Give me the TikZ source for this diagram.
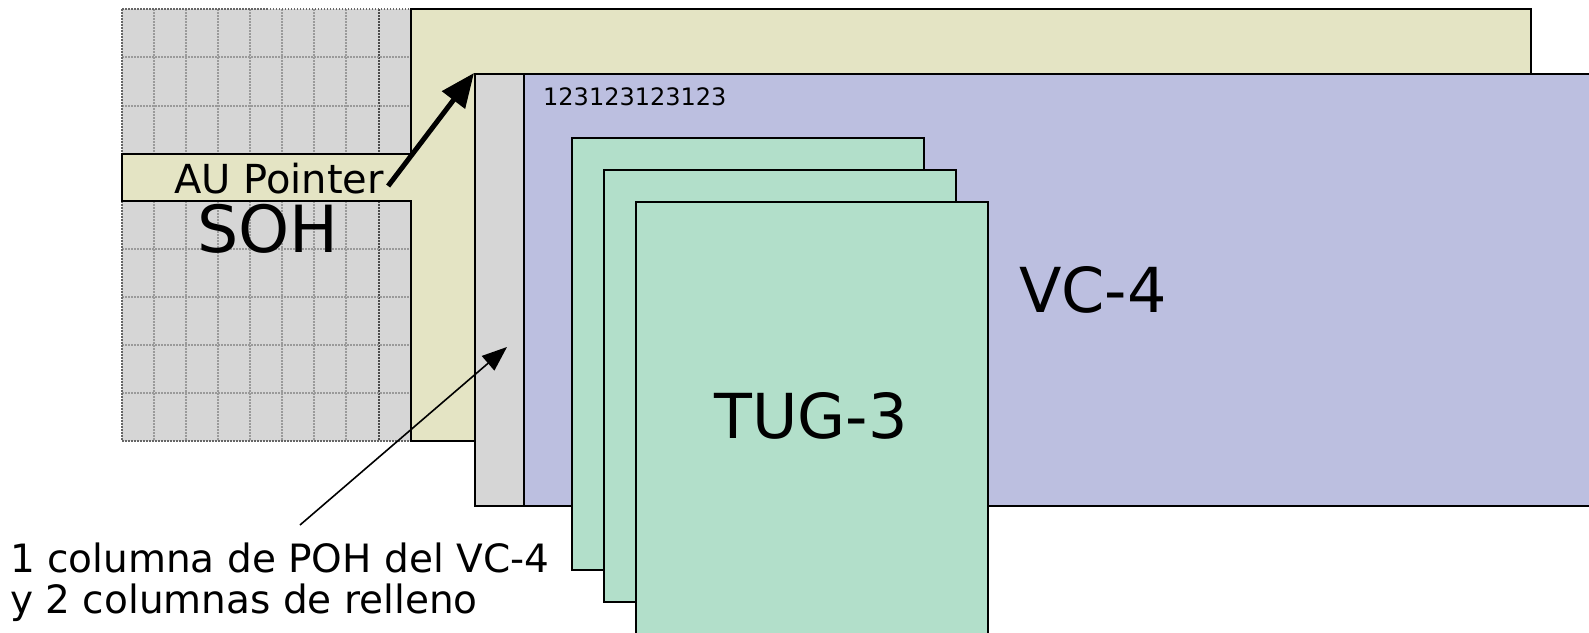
\documentclass[tikz,border=0pt]{standalone}
\usepackage{fontspec}
\setmainfont{DejaVu Sans}
\usetikzlibrary{arrows.meta}
\definecolor{sohgray}{HTML}{D6D6D6}
\definecolor{auyellow}{HTML}{E4E4C4}
\definecolor{vcblue}{HTML}{BCBFE0}
\definecolor{tuggreen}{HTML}{B2DFCA}
\definecolor{dotgray}{HTML}{9A9A9A}
\begin{document}
\begin{tikzpicture}[x=1pt,y=-1pt,
  frame/.style={draw=black, line width=2.4pt},
  boxnode/.style={frame, rectangle, inner sep=0pt, anchor=north west},
  gridline/.style={draw=dotgray, line width=1.2pt, dash pattern=on 1.5pt off 1.5pt},
  txt/.style={inner sep=0pt, text=black},
  pointerarrow/.style={line width=5pt, -{Triangle[length=34pt,width=28pt]}},
  notearrow/.style={line width=1.6pt, -{Triangle[length=25pt,width=19pt]}}]
\useasboundingbox (0,0) rectangle (1589,632);
\clip (0,0) rectangle (1589,632);

% section overhead: 9 x 9 byte grid
\fill[sohgray] (122,9) rectangle (411,441);
\foreach \x in {154,186,...,346} \draw[gridline] (\x,9) -- (\x,441);
\draw[gridline, draw=black!70] (379,9) -- (379,441);
\foreach \y in {57,106,249,297,345,393} \draw[gridline] (122,\y) -- (411,\y);
\draw[gridline, draw=black!60] (122,9) rectangle (411,441);

% AU-4 with its pointer row
\draw[frame, fill=auyellow] (411,9) -- (1531,9) -- (1531,441) -- (411,441)
  -- (411,201) -- (122,201) -- (122,154) -- (411,154) -- cycle;

% VC-4 and its path overhead column
\node[boxnode, fill=vcblue, minimum width=1200pt, minimum height=432pt] (vc4) at (474,73) {};
\node[boxnode, fill=sohgray, minimum width=49pt, minimum height=432pt] (poh) at (474,73) {};

% three TUG-3
\node[boxnode, fill=tuggreen, minimum width=352pt, minimum height=432pt] (tugA) at (571,137) {};
\node[boxnode, fill=tuggreen, minimum width=352pt, minimum height=432pt] (tugB) at (603,169) {};
\node[boxnode, fill=tuggreen, minimum width=352pt, minimum height=432pt] (tugC) at (635,201) {};

% labels
\node[txt, anchor=base west, font=\fontsize{24}{28}\selectfont] (cols) at (543,105) {123123123123};
\node[txt, anchor=base west, font=\fontsize{40}{48}\selectfont] (aup) at (174,193) {AU Pointer};
\node[txt, anchor=base, font=\fontsize{65}{78}\selectfont] (soh) at (268,252) {SOH};
\node[txt, anchor=base, font=\fontsize{62}{74}\selectfont] (vclabel) at (1093,312) {VC-4};
\node[txt, anchor=base, font=\fontsize{62}{74}\selectfont] (tuglabel) at (811,438) {TUG-3};
\node[txt, anchor=base west, font=\fontsize{39}{47}\selectfont] (noteA) at (10,572) {1 columna de POH del VC-4};
\node[txt, anchor=base west, font=\fontsize{39}{47}\selectfont] (noteB) at (10,613) {y 2 columnas de relleno};

% arrows
\draw[pointerarrow] ([xshift=4pt,yshift=7pt]aup.base east) -- (vc4.north west);
\coordinate (notetail) at (300,525);
\coordinate (notetip) at (507,347);
\draw[notearrow] (notetail) -- (notetip);
\end{tikzpicture}
\end{document}
